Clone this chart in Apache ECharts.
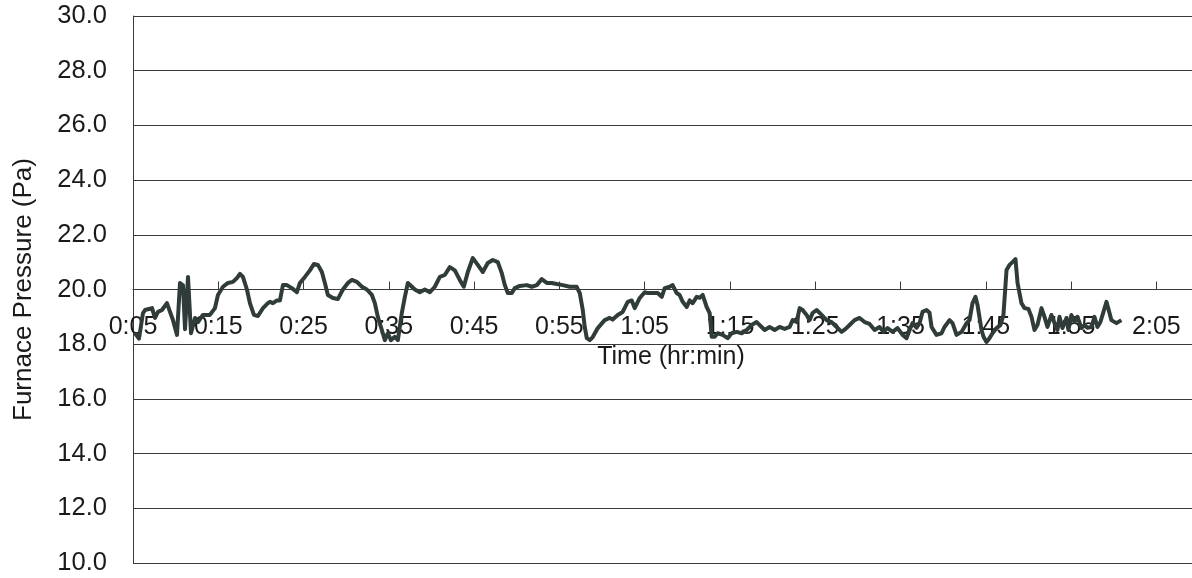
<!DOCTYPE html>
<html>
<head>
<meta charset="utf-8">
<script src="https://cdn.jsdelivr.net/npm/echarts@6/dist/echarts.min.js"></script>
<style>
  html, body { margin: 0; padding: 0; background: #ffffff; }
  #chart { width: 1192px; height: 578px; }
</style>
</head>
<body>
<div id="chart"></div>
<script>
// Elapsed time since start, in minutes
const timeMin = [
  5.23, 5.70, 6.17, 6.41, 7.23, 7.58, 7.93, 8.40, 8.98, 9.34, 9.69, 10.16, 10.51, 10.86, 11.10, 11.45, 11.80,
  12.27, 12.62, 13.20, 14.02, 14.61, 14.96, 15.55, 16.13, 16.72, 17.19, 17.54, 17.89, 18.36, 18.71, 19.18,
  19.65, 20.24, 20.82, 21.06, 21.41, 21.88, 22.23, 22.58, 23.05, 23.63, 24.22, 24.57, 25.16, 25.74, 26.21,
  26.68, 27.15, 27.50, 27.85, 28.44, 29.02, 29.61, 30.20, 30.67, 31.25, 31.84, 32.42, 33.01, 33.36, 33.71,
  34.18, 34.53, 34.88, 35.24, 35.70, 36.06, 36.52, 36.88, 37.23, 37.70, 38.05, 38.63, 39.22, 39.81, 40.39,
  40.98, 41.56, 42.15, 42.74, 43.32, 43.79, 44.26, 44.85, 45.43, 46.02, 46.60, 47.19, 47.78, 48.24, 48.60,
  48.95, 49.42, 49.77, 50.35, 51.17, 51.76, 52.35, 52.93, 53.52, 54.10, 54.69, 55.39, 56.21, 57.03, 57.39,
  57.74, 57.97, 58.21, 58.56, 58.91, 59.50, 59.73, 60.31, 60.90, 61.25, 61.84, 62.42, 63.01, 63.48, 63.83,
  64.42, 65.00, 65.35, 65.94, 66.53, 67.00, 67.35, 67.93, 68.28, 68.75, 69.10, 69.46, 69.93, 70.28, 70.63,
  71.10, 71.45, 71.80, 72.27, 72.62, 72.86, 73.21, 73.56, 74.14, 74.73, 75.20, 75.79, 76.37, 76.96, 77.54,
  78.13, 78.71, 79.07, 79.65, 80.24, 80.82, 81.41, 82.00, 82.35, 82.82, 83.17, 83.52, 83.99, 84.34, 84.69,
  85.16, 85.75, 86.33, 86.92, 87.50, 88.09, 88.56, 89.03, 89.61, 90.20, 90.79, 91.37, 91.96, 92.54, 93.01,
  93.48, 94.07, 94.65, 95.24, 95.71, 96.06, 96.41, 96.88, 97.23, 97.58, 98.05, 98.40, 98.64, 99.22, 99.81,
  100.16, 100.75, 101.10, 101.57, 102.15, 102.74, 103.09, 103.44, 103.79, 104.03, 104.50, 104.73, 105.08,
  105.43, 105.79, 106.25, 106.72, 107.07, 107.43, 107.78, 108.13, 108.48, 108.72, 109.18, 109.54, 110.00,
  110.36, 110.71, 111.06, 111.53, 111.88, 112.23, 112.70, 113.05, 113.40, 113.64, 113.99, 114.46, 114.69,
  115.04, 115.40, 115.75, 116.22, 116.57, 116.92, 117.39, 117.74, 118.09, 118.44, 119.15, 119.73, 120.32, 120.90
];

// Furnace pressure readings, Pa
const pressure = [
  18.41, 18.20, 19.14, 19.25, 19.32, 18.96, 19.18, 19.25, 19.50, 19.18, 18.88, 18.34, 20.24, 20.15, 18.55, 20.46, 18.40,
  18.96, 18.81, 19.07, 19.07, 19.32, 19.80, 20.10, 20.24, 20.28, 20.42, 20.57, 20.46, 20.00, 19.50, 19.07,
  19.03, 19.32, 19.50, 19.55, 19.50, 19.60, 19.60, 20.16, 20.16, 20.05, 19.90, 20.24, 20.46, 20.70, 20.93,
  20.90, 20.64, 20.24, 19.80, 19.69, 19.65, 20.00, 20.24, 20.35, 20.28, 20.10, 20.00, 19.80, 19.50, 19.00,
  18.52, 18.15, 18.40, 18.15, 18.27, 18.15, 19.14, 19.73, 20.24, 20.10, 20.00, 19.90, 20.00, 19.90, 20.10,
  20.46, 20.53, 20.82, 20.70, 20.35, 20.10, 20.64, 21.15, 20.90, 20.64, 20.97, 21.08, 21.00, 20.60, 20.16,
  19.87, 19.87, 20.05, 20.13, 20.16, 20.10, 20.16, 20.38, 20.24, 20.24, 20.20, 20.16, 20.10, 20.10, 19.87,
  19.25, 18.63, 18.22, 18.15, 18.26, 18.59, 18.63, 18.88, 18.96, 18.90, 19.07, 19.18, 19.55, 19.60, 19.32,
  19.69, 19.90, 19.87, 19.87, 19.87, 19.73, 20.05, 20.10, 20.16, 19.87, 19.80, 19.55, 19.36, 19.60, 19.50,
  19.73, 19.70, 19.80, 19.36, 19.14, 18.27, 18.27, 18.40, 18.34, 18.22, 18.40, 18.45, 18.40, 18.52, 18.70,
  18.81, 18.63, 18.52, 18.63, 18.52, 18.63, 18.56, 18.63, 18.88, 18.81, 19.32, 19.25, 19.07, 18.88, 19.14,
  19.25, 19.07, 18.88, 18.81, 18.63, 18.45, 18.56, 18.70, 18.88, 18.96, 18.81, 18.74, 18.52, 18.63, 18.45,
  18.59, 18.45, 18.59, 18.34, 18.22, 18.52, 18.77, 18.60, 18.77, 19.18, 19.25, 19.15, 18.63, 18.34, 18.40,
  18.63, 18.88, 18.77, 18.34, 18.45, 18.77, 18.88, 19.50, 19.73, 19.43, 18.52, 18.27, 18.08,
  18.22, 18.40, 18.59, 18.70, 19.07, 20.71, 20.90, 21.00, 21.11, 20.24, 19.50, 19.32, 19.29,
  19.00, 18.52, 18.70, 19.32, 19.00, 18.63, 19.07, 18.77, 18.52, 19.00, 18.59, 18.96, 18.52,
  19.07, 18.81, 19.00, 18.59, 18.70, 18.60, 18.63, 19.00, 18.63, 18.81, 19.55, 18.88, 18.77, 18.88
];

// Axis ranges and tick steps
const timeAxis = { min: 5, max: 130, step: 10 };
const pressureAxis = { min: 10, max: 30, step: 2 };

const FONT = '"Liberation Sans", Arial, Helvetica, sans-serif';
const TEXT = '#1a1a1a';
const GRID = '#3a3a3a';

function toHourMin(m) {
  const h = Math.floor(m / 60);
  const mm = Math.round(m - h * 60);
  return h + ':' + (mm < 10 ? '0' : '') + mm;
}

const seriesData = timeMin.map((t, i) => [t, pressure[i]]);

const chart = echarts.init(document.getElementById('chart'), null, { renderer: 'canvas' });

chart.setOption({
  animation: false,
  backgroundColor: '#ffffff',
  grid: {
    left: 133,
    right: -7,
    top: 16,
    bottom: 15,
    containLabel: false,
    outerBoundsMode: 'none'
  },
  xAxis: {
    type: 'value',
    min: timeAxis.min,
    max: timeAxis.max,
    interval: timeAxis.step,
    position: 'bottom',
    // the time axis crosses the pressure axis at 20 Pa
    offset: -273.5,
    name: 'Time (hr:min)',
    nameLocation: 'middle',
    nameGap: 50,
    nameTextStyle: { fontFamily: FONT, fontSize: 25, color: TEXT, padding: [0, 0, 0, 10] },
    axisLine: { show: true, lineStyle: { color: GRID, width: 1 } },
    axisTick: { show: true, inside: true, length: 8, lineStyle: { color: GRID, width: 1 } },
    axisLabel: {
      fontFamily: FONT,
      fontSize: 25,
      color: TEXT,
      margin: 25,
      formatter: v => ((Math.round(v) - timeAxis.min) % timeAxis.step === 0 && v < timeAxis.max) ? toHourMin(v) : ''
    },
    splitLine: { show: false }
  },
  yAxis: {
    type: 'value',
    min: pressureAxis.min,
    max: pressureAxis.max,
    interval: pressureAxis.step,
    name: 'Furnace Pressure (Pa)',
    nameLocation: 'middle',
    nameRotate: 90,
    nameGap: 96,
    nameTextStyle: { fontFamily: FONT, fontSize: 26, color: TEXT },
    axisLine: { show: true, lineStyle: { color: GRID, width: 1 } },
    axisTick: { show: false },
    axisLabel: {
      fontFamily: FONT,
      fontSize: 25.5,
      color: TEXT,
      margin: 26,
      formatter: v => v.toFixed(1)
    },
    splitLine: { show: true, lineStyle: { color: GRID, width: 1 } }
  },
  series: [{
    type: 'line',
    data: seriesData,
    showSymbol: false,
    symbol: 'none',
    smooth: false,
    lineStyle: { color: '#2f3c39', width: 4, join: 'round' },
    z: 3
  }]
});
</script>
</body>
</html>
